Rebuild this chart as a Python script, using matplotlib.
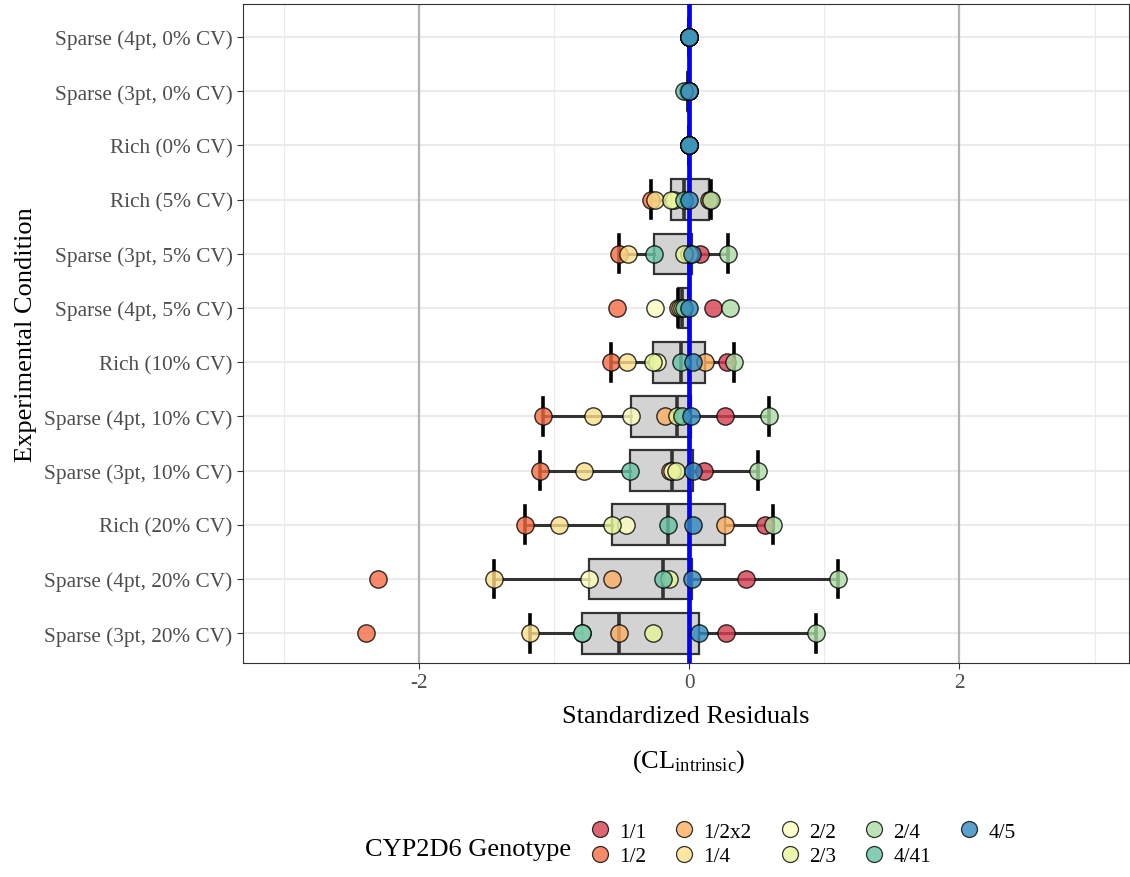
import matplotlib.pyplot as plt
from matplotlib.lines import Line2D
import numpy as np

plt.rcParams['font.family'] = ['Liberation Serif', 'DejaVu Serif']
plt.rcParams['mathtext.fontset'] = 'custom'
plt.rcParams['mathtext.rm'] = 'Liberation Serif'
plt.rcParams['mathtext.it'] = 'Liberation Serif:italic'

# conditions, top to bottom
conditions = ["Sparse (4pt, 0% CV)", "Sparse (3pt, 0% CV)", "Rich (0% CV)",
              "Rich (5% CV)", "Sparse (3pt, 5% CV)", "Sparse (4pt, 5% CV)",
              "Rich (10% CV)", "Sparse (4pt, 10% CV)", "Sparse (3pt, 10% CV)",
              "Rich (20% CV)", "Sparse (4pt, 20% CV)", "Sparse (3pt, 20% CV)"]

genotypes = ["1/1", "1/2", "1/2x2", "1/4", "2/2", "2/3", "2/4", "4/41", "4/5"]
genotype_colors = ["#D53E4F", "#F46D43", "#FDAE61", "#FEE08B", "#FFFFBF",
                   "#E6F598", "#ABDDA4", "#66C2A5", "#3288BD"]

# standardized residuals of CL_intrinsic, one value per condition (same order)
res_1_1 = [0.0, 0.0, 0.0, 0.155, 0.08, 0.175, 0.28, 0.266, 0.11, 0.56, 0.42, 0.27]
res_1_2 = [0.0, -0.005, 0.0, -0.28, -0.52, -0.53, -0.58, -1.08, -1.10, -1.21, -2.30, -2.39]
res_1_2x2 = [0.0, 0.0, 0.0, 0.15, 0.01, -0.08, 0.118, -0.18, -0.14, 0.266, -0.57, -0.52]
res_1_4 = [0.0, -0.005, 0.0, -0.25, -0.45, -0.07, -0.46, -0.71, -0.78, -0.96, -1.44, -1.18]
res_2_2 = [0.0, 0.0, 0.0, -0.11, 0.0, -0.25, -0.24, -0.43, -0.125, -0.47, -0.74, -0.79]
res_2_3 = [0.0, -0.005, 0.0, -0.13, -0.04, -0.05, -0.27, -0.09, -0.10, -0.57, -0.146, -0.27]
res_2_4 = [0.0, 0.0, 0.0, 0.165, 0.29, 0.30, 0.33, 0.59, 0.51, 0.62, 1.10, 0.94]
res_4_41 = [0.0, -0.04, 0.0, -0.04, -0.26, -0.04, -0.06, -0.05, -0.44, -0.153, -0.19, -0.79]
res_4_5 = [0.0, 0.0, 0.0, 0.0, 0.02, 0.0, 0.032, 0.012, 0.027, 0.032, 0.02, 0.076]

residuals = [res_1_1, res_1_2, res_1_2x2, res_1_4, res_2_2, res_2_3, res_2_4, res_4_41, res_4_5]
table = np.array(residuals)  # genotype x condition

fig = plt.figure(figsize=(11.3, 8.78), dpi=100)
ax = fig.add_axes([243 / 1130, 1 - 664 / 878, (1129 - 243) / 1130, (664 - 5) / 878])

pos = np.arange(len(conditions))

# grid
for y in pos:
    ax.axhline(y, color='#ebebeb', lw=1.5, zorder=0.5)
for x in [-3, -1, 1, 3]:
    ax.axvline(x, color='#ebebeb', lw=0.8, zorder=0.5)
for x in [-2, 2]:
    ax.axvline(x, color='#b3b3b3', lw=1.6, zorder=1)

# boxplots
ax.boxplot([table[:, i] for i in range(len(conditions))], positions=pos,
           orientation='horizontal', widths=0.75, capwidths=0.68,
           patch_artist=True, showfliers=False,
           boxprops=dict(facecolor='#d3d3d3', edgecolor='#333333', lw=1.6),
           whiskerprops=dict(color='#333333', lw=2.2),
           capprops=dict(color='black', lw=2.6),
           medianprops=dict(color='#333333', lw=2.6),
           zorder=2)

ax.axvline(0, color='#0000ff', lw=3.4, zorder=3)

# points
for g, col, vals in zip(genotypes, genotype_colors, residuals):
    ax.scatter(vals, pos, s=155, color=col, alpha=0.8, edgecolor='black',
               linewidth=1.0, zorder=4, label=g)

ax.set_xlim(-3.30, 3.255)
ax.set_ylim(11.55, -0.61)
ax.set_xticks([-2, 0, 2])
ax.set_xticklabels(["-2", "0", "2"])
ax.set_yticks(pos)
ax.set_yticklabels(conditions)
ax.tick_params(axis='both', labelsize=15.3, labelcolor='#4d4d4d', color='#333333',
               length=4, width=0.8)
for sp in ax.spines.values():
    sp.set_color('#333333')
    sp.set_linewidth(0.8)

ax.set_xlabel("Standardized Residuals", fontsize=19, labelpad=9)
ax.set_ylabel("Experimental Condition", fontsize=19, labelpad=5)
fig.text(689 / 1130, 1 - 762 / 878, r"(CL$_{\mathrm{intrinsic}}$)", fontsize=19,
         ha='center', va='center')

# legend
handles = [Line2D([], [], marker='o', ls='none', markersize=11.5, markerfacecolor=c,
                  markeredgecolor='black', markeredgewidth=0.9, alpha=0.8)
           for c in genotype_colors]
fig.legend(handles, genotypes, ncol=5, loc='center left',
           bbox_to_anchor=(589 / 1130, 1 - 845 / 878), frameon=False,
           fontsize=15.3, handlelength=1.0, handletextpad=0.4,
           columnspacing=1.3, labelspacing=0.22, borderpad=0, borderaxespad=0)
fig.text(365 / 1130, 1 - 850 / 878, "CYP2D6 Genotype", fontsize=19,
         ha='left', va='center')

fig.savefig("out.png", dpi=100)
